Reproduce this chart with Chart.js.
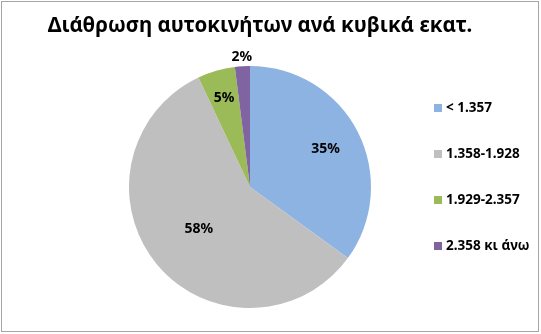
<!DOCTYPE html>
<html>
<head>
<meta charset="utf-8">
<script src="https://cdn.jsdelivr.net/npm/chart.js@4"></script>
<style>
  html, body { margin: 0; padding: 0; background: #fff; }
  #wrap { width: 541px; height: 334px; position: relative; }
</style>
</head>
<body>
<div id="wrap"><canvas id="pie1" width="541" height="334"></canvas></div>
<script>
// DONNEES
const chartTitle = 'Διάθρωση αυτοκινήτων ανά κυβικά εκατ.';
const categories = ['< 1.357', '1.358-1.928', '1.929-2.357', '2.358 κι άνω'];
const shares = [35, 58, 5, 2];
const sliceColors = ['#8db3e2', '#bfbfbf', '#9bbb59', '#8064a2'];

// distance of each % label from the centre, as a part of the radius
const labelDist = [0.70, 0.55, 0.77, 1.08];

const FONT = '"Noto Sans", "DejaVu Sans", sans-serif';

// cadre + titre + legende + etiquettes
const excelLook = {
  id: 'excelLook',
  afterDraw(chart) {
    const ctx = chart.ctx;
    ctx.save();

    // cadre gris
    ctx.strokeStyle = '#a6a6a6';
    ctx.lineWidth = 1;
    ctx.strokeRect(1.5, 1.5, 537, 330);

    // titre
    ctx.fillStyle = '#000';
    ctx.font = 'bold 20.5px ' + FONT;
    ctx.textAlign = 'center';
    ctx.textBaseline = 'middle';
    ctx.fillText(chartTitle, 260, 26);

    // etiquettes %
    const meta = chart.getDatasetMeta(0);
    const total = shares.reduce((a, b) => a + b, 0);
    ctx.font = 'bold 14px ' + FONT;
    meta.data.forEach((arc, i) => {
      const p = arc.getProps(['x', 'y', 'startAngle', 'endAngle', 'outerRadius'], true);
      const mid = (p.startAngle + p.endAngle) / 2;
      const r = p.outerRadius * labelDist[i];
      const x = p.x + Math.cos(mid) * r;
      const y = p.y + Math.sin(mid) * r;
      ctx.fillText(Math.round(shares[i] / total * 100) + '%', x, y);
    });

    // legende
    ctx.textAlign = 'left';
    ctx.font = 'bold 13.5px ' + FONT;
    categories.forEach((c, i) => {
      const y = 108 + i * 46;
      ctx.fillStyle = sliceColors[i];
      ctx.fillRect(434, y - 4, 8, 8);
      ctx.fillStyle = '#000';
      ctx.fillText(c, 446, y);
    });

    ctx.restore();
  }
};

let myChart1 = new Chart(document.getElementById('pie1'), {
  type: 'pie',
  data: {
    labels: categories,
    datasets: [{
      data: shares,
      backgroundColor: sliceColors,
      borderWidth: 0
    }]
  },
  options: {
    responsive: false,
    animation: false,
    layout: {
      padding: { top: 66, bottom: 26, left: 129, right: 170 }
    },
    plugins: {
      legend: { display: false },
      title: { display: false },
      tooltip: { enabled: false }
    }
  },
  plugins: [excelLook]
});
</script>
</body>
</html>
